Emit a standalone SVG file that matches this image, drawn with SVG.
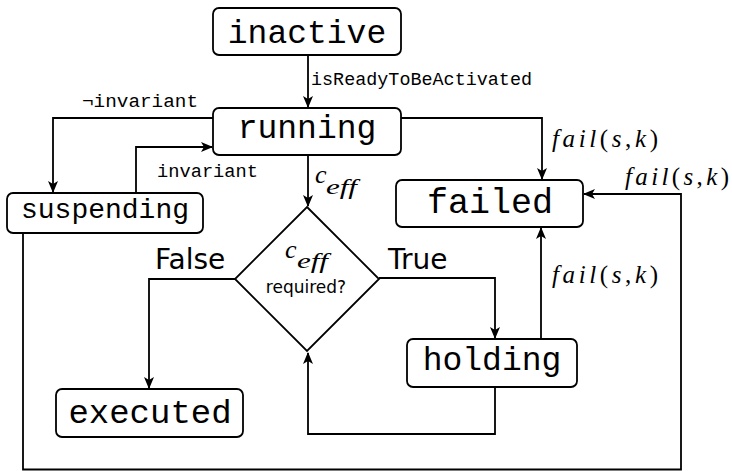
<svg xmlns="http://www.w3.org/2000/svg" width="732" height="471" viewBox="0 0 732 471">
<defs>
<style>
.box{fill:#fff;stroke:#000;stroke-width:1.8}
.node{font-family:"Liberation Mono","DejaVu Sans Mono",monospace;fill:#000;text-anchor:middle}
.lbl{font-family:"Liberation Mono","DejaVu Sans Mono",monospace;font-size:18px;fill:#000}
.math{font-family:"Liberation Serif","DejaVu Serif",serif;font-style:italic;fill:#000}
.sans{font-family:"DejaVu Sans","Liberation Sans",sans-serif;fill:#000}
.edge{fill:none;stroke:#000;stroke-width:1.8}
</style>
<marker id="arr" viewBox="0 0 12 10" refX="11" refY="5" markerWidth="12" markerHeight="10" markerUnits="userSpaceOnUse" orient="auto">
<path d="M0,0 L12,5 L0,10 L3,5 z" fill="#000"/>
</marker>
</defs>
<rect width="732" height="471" fill="#fff"/>
<g id="edges">
<path class="edge" d="M308,55 V107" marker-end="url(#arr)"/>
<path class="edge" d="M213,118 H53 V192" marker-end="url(#arr)"/>
<path class="edge" d="M136,193 V147 H212" marker-end="url(#arr)"/>
<path class="edge" d="M308,155 V206" marker-end="url(#arr)"/>
<path class="edge" d="M401,118 H542 V179" marker-end="url(#arr)"/>
<path class="edge" d="M235,279 H149 V388" marker-end="url(#arr)"/>
<path class="edge" d="M379,278 H495 V338" marker-end="url(#arr)"/>
<path class="edge" d="M541,339 V228" marker-end="url(#arr)"/>
<path class="edge" d="M495,387 V434 H308 V353" marker-end="url(#arr)"/>
<path class="edge" d="M23,233 V469.5 H681 V194 H584" marker-end="url(#arr)"/>
<text class="lbl" x="311" y="85" textLength="221" lengthAdjust="spacingAndGlyphs">isReadyToBeActivated</text>
<text class="lbl" x="82" y="107" textLength="116" lengthAdjust="spacingAndGlyphs">¬invariant</text>
<text class="lbl" x="157" y="177" textLength="101" lengthAdjust="spacingAndGlyphs">invariant</text>
<text class="math" x="315" y="183" font-size="26">c</text>
<text class="math" x="326" y="194" font-size="21" textLength="31" lengthAdjust="spacingAndGlyphs">eff</text>
<text class="math" x="552" y="147" font-size="25" textLength="106" lengthAdjust="spacing">fail<tspan font-style="normal">(</tspan>s<tspan font-style="normal">,</tspan>k<tspan font-style="normal">)</tspan></text>
<text class="math" x="625" y="185" font-size="25" textLength="104" lengthAdjust="spacing">fail<tspan font-style="normal">(</tspan>s<tspan font-style="normal">,</tspan>k<tspan font-style="normal">)</tspan></text>
<text class="math" x="552" y="283" font-size="25" textLength="106" lengthAdjust="spacing">fail<tspan font-style="normal">(</tspan>s<tspan font-style="normal">,</tspan>k<tspan font-style="normal">)</tspan></text>
<text class="sans" x="155" y="269" font-size="28">False</text>
<text class="sans" x="388" y="269" font-size="28">True</text>
</g>
<g id="inactive">
<rect class="box" x="213" y="8" width="188" height="47" rx="6"/>
<text class="node" x="307" y="43" font-size="33">inactive</text>
</g>
<g id="running">
<rect class="box" x="213" y="108" width="188" height="47" rx="6"/>
<text class="node" x="307" y="138" font-size="33">running</text>
</g>
<g id="suspending">
<rect class="box" x="7" y="193" width="196" height="40" rx="6"/>
<text class="node" x="105" y="218" font-size="28">suspending</text>
</g>
<g id="failed">
<rect class="box" x="396" y="180" width="187" height="47" rx="6"/>
<text class="node" x="490" y="213" font-size="35">failed</text>
</g>
<g id="decision">
<path class="box" d="M307,207 L379,279 L307,351 L235,279 Z"/>
<text class="math" x="285" y="258" font-size="26">c</text>
<text class="math" x="297" y="268" font-size="21" textLength="31" lengthAdjust="spacingAndGlyphs">eff</text>
<text class="sans" x="306" y="293" font-size="17" text-anchor="middle">required?</text>
</g>
<g id="holding">
<rect class="box" x="407" y="339" width="170" height="48" rx="6"/>
<text class="node" x="492" y="370" font-size="33">holding</text>
</g>
<g id="executed">
<rect class="box" x="56" y="389" width="187" height="48" rx="6"/>
<text class="node" x="150" y="423" font-size="34">executed</text>
</g>
</svg>
